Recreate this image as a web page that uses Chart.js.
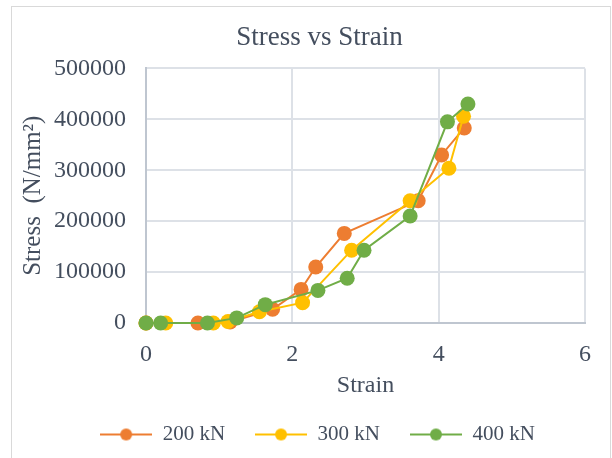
<!DOCTYPE html>
<html>
<head>
<meta charset="utf-8">
<script src="https://cdn.jsdelivr.net/npm/chart.js@4"></script>
<style>
  body { margin: 0; background: #fff; }
  #wrap { position: relative; width: 612px; height: 458px; overflow: hidden; }
  #frame { position: absolute; left: 11px; top: 6px; width: 598px; height: 470px; border: 1px solid #d9d9d9; }
  canvas { position: absolute; left: 0; top: 0; }
</style>
</head>
<body>
<div id="wrap">
  <div id="frame"></div>
  <canvas id="chart" width="612" height="458"></canvas>
</div>
<script>
// strain / stress readings for each load
const strain200 = [0, 0.71, 1.15, 1.73, 2.12, 2.32, 2.71, 3.72, 4.04, 4.35];
const stress200 = [0, 0, 2000, 27000, 66000, 110000, 176000, 240000, 330000, 383000];

const strain300 = [0, 0.27, 0.92, 1.12, 1.55, 2.14, 2.81, 3.61, 4.14, 4.34];
const stress300 = [0, 0, 0, 3000, 22000, 40000, 143000, 240000, 304000, 406000];

const strain400 = [0, 0.2, 0.84, 1.24, 1.63, 2.35, 2.75, 2.98, 3.61, 4.12, 4.4];
const stress400 = [0, 0, 0, 10000, 36000, 64000, 88000, 143000, 210000, 395000, 430000];

const labels = ["200 kN", "300 kN", "400 kN"];
const colors = ["#ED7D31", "#FFC000", "#70AD47"];

const textColor = "#444e5e";
const gridColor = "#dde1e7";
const fontFamily = "'Liberation Serif', 'Times New Roman', serif";

function toPoints(xs, ys) {
  return xs.map((x, i) => ({ x: x, y: ys[i] }));
}

// legend marker: short line with a dot in the middle
function legendMarker(color) {
  const c = document.createElement("canvas");
  c.width = 52;
  c.height = 14;
  const ctx = c.getContext("2d");
  ctx.strokeStyle = color;
  ctx.lineWidth = 2;
  ctx.beginPath();
  ctx.moveTo(0, 7);
  ctx.lineTo(52, 7);
  ctx.stroke();
  ctx.fillStyle = color;
  ctx.beginPath();
  ctx.arc(26, 7, 6, 0, Math.PI * 2);
  ctx.fill();
  return c;
}

// title and legend are centred on the whole frame, not the plot
const centerShift = {
  id: "centerShift",
  afterLayout(chart) {
    chart.titleBlock.left += 27;
    chart.titleBlock.right += 27;
    chart.legend.left += 25;
    chart.legend.right += 25;
  },
};

const series = [
  toPoints(strain200, stress200),
  toPoints(strain300, stress300),
  toPoints(strain400, stress400),
];

const datasets = series.map((pts, i) => ({
  label: labels[i],
  data: pts,
  showLine: true,
  clip: false,
  borderColor: colors[i],
  backgroundColor: colors[i],
  borderWidth: 2,
  pointRadius: 7.5,
  pointHoverRadius: 7.5,
  pointBorderWidth: 0,
  order: 2 - i, // green drawn on top
}));

const chart = new Chart(document.getElementById("chart"), {
  type: "scatter",
  data: { datasets: datasets },
  plugins: [centerShift],
  options: {
    responsive: false,
    animation: false,
    layout: { padding: { left: 0, right: 27, top: 0, bottom: 3 } },
    plugins: {
      tooltip: { enabled: false },
      title: {
        display: true,
        text: "Stress vs Strain",
        color: textColor,
        font: { family: fontFamily, size: 27, weight: "normal" },
        padding: { top: 22, bottom: 14 },
      },
      legend: {
        position: "bottom",
        labels: {
          color: textColor,
          font: { family: fontFamily, size: 21 },
          usePointStyle: true,
          pointStyleWidth: 52,
          padding: 30,
          generateLabels: (chart) =>
            chart.data.datasets.map((ds, i) => ({
              text: ds.label,
              fontColor: textColor,
              pointStyle: legendMarker(colors[i]),
              strokeStyle: colors[i],
              fillStyle: colors[i],
              lineWidth: 0,
              datasetIndex: i,
              hidden: false,
            })),
        },
      },
    },
    scales: {
      x: {
        type: "linear",
        min: 0,
        max: 6,
        ticks: {
          stepSize: 2,
          color: textColor,
          font: { family: fontFamily, size: 24 },
          padding: 17,
        },
        grid: { color: gridColor, lineWidth: 2, drawTicks: false },
        border: { color: "#bfc6d0", width: 2 },
        title: {
          display: true,
          text: "Strain",
          color: textColor,
          font: { family: fontFamily, size: 24 },
          padding: { top: 0, bottom: -6 },
        },
        afterFit: (scale) => {
          scale.height = 71;
        },
      },
      y: {
        min: 0,
        max: 500000,
        ticks: {
          stepSize: 100000,
          color: textColor,
          font: { family: fontFamily, size: 24 },
          padding: 20,
          callback: (value) => String(value),
        },
        grid: { color: gridColor, lineWidth: 2, drawTicks: false },
        border: { color: "#bfc6d0", width: 2 },
        title: {
          display: true,
          text: "Stress  (N/mm²)",
          color: textColor,
          font: { family: fontFamily, size: 25 },
          padding: { top: 18, bottom: 0 },
        },
        afterFit: (scale) => {
          scale.width = 146;
        },
      },
    },
  },
});
</script>
</body>
</html>
